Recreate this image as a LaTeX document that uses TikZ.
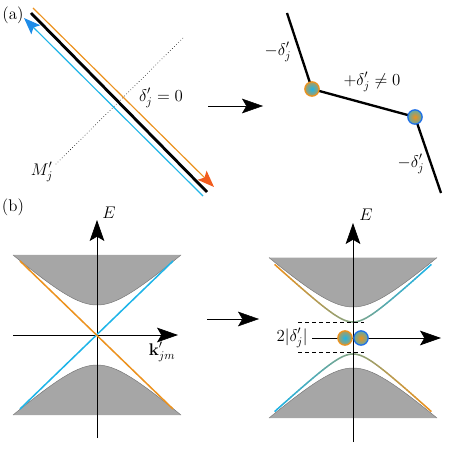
\documentclass[tikz,border=0pt]{standalone}
\usetikzlibrary{arrows.meta}
\definecolor{orgc}{RGB}{236,146,30}
\definecolor{cyanc}{RGB}{30,180,232}
\definecolor{orghead}{RGB}{242,92,30}
\definecolor{bluehead}{RGB}{30,140,232}
\definecolor{bluering}{RGB}{30,110,232}
\definecolor{greyfill}{RGB}{166,166,166}
\definecolor{greyline}{RGB}{118,118,118}
\begin{document}
\begin{tikzpicture}[x=0.03cm,y=-0.03cm,every node/.style={font=\Large},
  bigarrow/.style={-{Stealth[length=6.3mm,width=4.4mm,inset=1.3mm]}},
  axisline/.style={line width=0.6pt,bigarrow},
  dotorg/.style={circle,draw=orgc,line width=1.1pt,inner color=cyanc,outer color=orgc!70!cyanc,minimum size=4.3mm,inner sep=0pt},
  dotblue/.style={circle,draw=bluering,line width=1.1pt,inner color=orgc,outer color=cyanc!70!orgc,minimum size=4.3mm,inner sep=0pt},
  gapband/.style={fill=greyfill,draw=greyline,line width=0.4pt}]
\useasboundingbox (0,0) rectangle (457,457);
\node at (13,15) {(a)};
\node at (13,207) {(b)};
% (a) left
\draw[line width=2.4pt] (31,13) -- (207,192);
\draw[orgc,line width=1pt,-{Stealth[length=5mm,width=3.8mm,inset=1mm,color=orghead]}] (33,8) -- (214,187);
\draw[cyanc,line width=1pt,{Stealth[length=5mm,width=3.8mm,inset=1mm,color=bluehead]}-] (24,18) -- (203,196);
\draw[dotted,line width=0.5pt] (183,38) -- (55,165);
\node (mj) at (42,172) {$M'_j$};
\node (dz) at (161,98) {$\delta'_j=0$};
\draw[bigarrow] (208,106) -- (263,106);
% (a) right
\coordinate (t1) at (287,13);
\coordinate (p1) at (312,89);
\coordinate (p2) at (415,117);
\coordinate (t2) at (441,193);
\draw[line width=2pt] (t1) -- (p1) -- (p2) -- (t2);
\node[dotorg] (d1) at (p1) {};
\node[dotblue] (d2) at (p2) {};
\node at (278,52) {$-\delta'_j$};
\node at (372,82) {$+\delta'_j\neq 0$};
\node at (411,164) {$-\delta'_j$};
% (b) left
\fill[greyfill] plot[domain=-84:84,samples=60] ({97+\x},{335-sqrt(900+0.78*\x*\x)}) -- cycle;
\draw[greyline,line width=0.4pt] plot[domain=-84:84,samples=60] ({97+\x},{335-sqrt(900+0.78*\x*\x)});
\fill[greyfill] plot[domain=-84:84,samples=60] ({97+\x},{335+sqrt(900+0.78*\x*\x)}) -- cycle;
\draw[greyline,line width=0.4pt] plot[domain=-84:84,samples=60] ({97+\x},{335+sqrt(900+0.78*\x*\x)});
\draw[axisline] (97,438) -- (97,220);
\node at (109,213) {$E$};
\draw[axisline] (13,335) -- (178,335);
\node at (162,352) {$\mathbf{k}'_{jm}$};
\draw[cyanc,line width=1.3pt] (20,409) -- (173,261);
\draw[orgc,line width=1.3pt] (20,261) -- (173,409);
\draw[bigarrow] (207,319) -- (259,319);
% (b) right
\fill[greyfill] plot[domain=-84:84,samples=60] ({353+\x},{338-sqrt(961+0.78*\x*\x)}) -- cycle;
\draw[greyline,line width=0.4pt] plot[domain=-84:84,samples=60] ({353+\x},{338-sqrt(961+0.78*\x*\x)});
\fill[greyfill] plot[domain=-84:84,samples=60] ({353+\x},{338+sqrt(900+0.78*\x*\x)}) -- cycle;
\draw[greyline,line width=0.4pt] plot[domain=-84:84,samples=60] ({353+\x},{338+sqrt(900+0.78*\x*\x)});
\foreach \i in {-39,...,38} {
  \pgfmathsetmacro\xa{2*\i}
  \pgfmathsetmacro\xb{2*\i+2}
  \pgfmathsetmacro\ya{sqrt(256+0.84*\xa*\xa)}
  \pgfmathsetmacro\yb{sqrt(256+0.84*\xb*\xb)}
  \pgfmathtruncatemacro\p{100*(38-\i)/77}
  \draw[orgc!\p!cyanc,line width=1.3pt,line cap=round] ({353+\xa},{338-\ya}) -- ({353+\xb},{338-\yb});
  \draw[cyanc!\p!orgc,line width=1.3pt,line cap=round] ({353+\xa},{338+\ya}) -- ({353+\xb},{338+\yb});
}
\draw[axisline] (353,442) -- (353,223);
\node at (366,215) {$E$};
\draw[dashed,line width=0.5pt] (298,322) -- (364,322);
\draw[dashed,line width=0.5pt] (298,352) -- (364,352);
\node[anchor=east,inner sep=1pt] (gap) at (309,338) {$2|\delta'_j|$};
\coordinate (kend) at (441,338);
\draw[axisline] (gap.east) ++(3,0) -- (kend);
\node[dotorg] (d3) at (345,338) {};
\node[dotblue] (d4) at (361,338) {};
\end{tikzpicture}
\end{document}
